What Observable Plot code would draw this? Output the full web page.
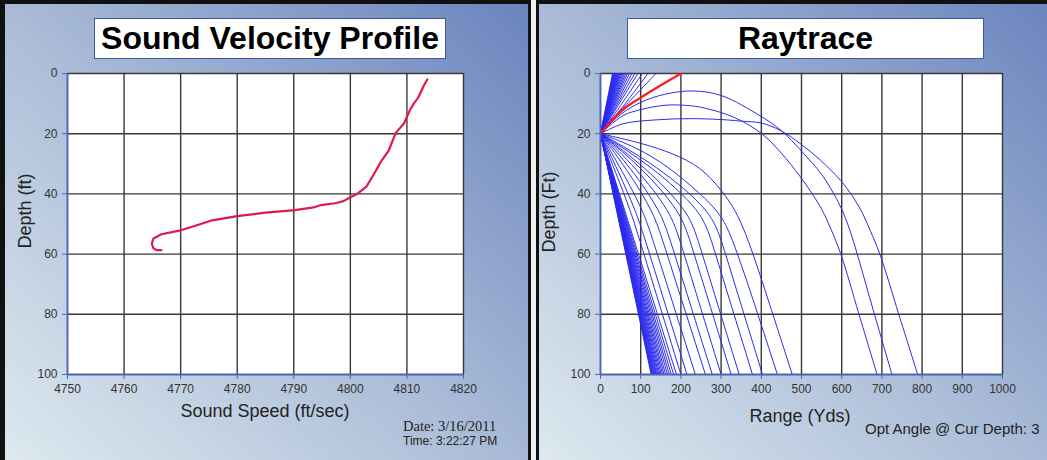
<!DOCTYPE html>
<html><head><meta charset="utf-8">
<script src="https://cdn.jsdelivr.net/npm/d3@7"></script>
<script src="https://cdn.jsdelivr.net/npm/@observablehq/plot@0.6"></script>
<style>
html,body{margin:0;padding:0;}
body{width:1047px;height:460px;position:relative;overflow:hidden;background:#f0f0f0;font-family:"Liberation Sans",Arial,sans-serif;}
.panel{position:absolute;top:0;height:480px;box-sizing:border-box;background:linear-gradient(to top right,#e0ebf0 0%,#a9bbd7 50%,#6a84bd 100%);border-top:4px solid #111;}
#pl{left:0;width:531px;border-left:5px solid #111;border-right:3px solid #111;}
#pr{left:536px;width:520px;border-left:3px solid #111;}
.tbox{position:absolute;top:18px;height:41px;background:#fff;border:1px solid #3f57a8;box-sizing:border-box;font-weight:bold;font-size:32px;line-height:39px;text-align:center;color:#000;}
.lab{position:absolute;font-size:18px;color:#222;white-space:nowrap;line-height:1;}
</style></head><body>
<div class="panel" id="pl"></div>
<div class="panel" id="pr"></div>
<div class="tbox" style="left:94px;width:352px;">Sound Velocity Profile</div>
<div class="tbox" style="left:627px;width:357px;">Raytrace</div>
<div class="lab" style="left:265px;top:411px;transform:translate(-50%,-50%);">Sound Speed (ft/sec)</div>
<div class="lab" style="left:25px;top:211px;transform:translate(-50%,-50%) rotate(-90deg);">Depth (ft)</div>
<div class="lab" style="left:403px;top:419px;font-family:'Liberation Serif','Times New Roman',serif;font-size:14.5px;">Date: 3/16/2011</div>
<div class="lab" style="left:403px;top:435px;font-size:12px;">Time: 3:22:27 PM</div>
<div class="lab" style="left:800px;top:416px;transform:translate(-50%,-50%);">Range (Yds)</div>
<div class="lab" style="left:549px;top:212px;transform:translate(-50%,-50%) rotate(-90deg);">Depth (Ft)</div>
<div class="lab" style="left:865px;top:421px;font-size:15px;">Opt Angle @ Cur Depth: 3</div>
<script>
// ---------- data ----------
const svpSpeed = [4813.6, 4813.0, 4812.0, 4811.2, 4810.5, 4809.5, 4808.0, 4806.8, 4805.5, 4804.2, 4802.8, 4801.2, 4800.0, 4798.8, 4797.3, 4794.8, 4793.5, 4790.2, 4785.0, 4780.0, 4775.3, 4772.9, 4770.0, 4766.6, 4765.2, 4764.9, 4765.2, 4765.8, 4766.6];
const svpDepth = [2, 4, 8, 10, 12.3, 16.5, 19.8, 25.5, 29, 33.3, 37.7, 40, 41.1, 42.4, 43.1, 43.7, 44.5, 45.4, 46.2, 47.4, 48.9, 50.4, 52.1, 53.4, 54.8, 56.5, 58.1, 58.7, 58.7];
const speedTicks = [4750, 4760, 4770, 4780, 4790, 4800, 4810, 4820];
const depthTicks = [0, 20, 40, 60, 80, 100];
const rangeTicks = [0, 100, 200, 300, 400, 500, 600, 700, 800, 900, 1000];

const rayOrigin = [0, 20];
// straight rays: range (yds) where each reaches the surface / the 100 ft bottom
const upFanEnds = [30, 31.5, 33, 34.5, 36, 37.5, 39, 40.5, 42, 44, 46, 48, 50.5, 53, 56, 59.5, 63, 67, 72, 78, 85, 93];
const downFanEnds = [126, 127.5, 129, 130.5, 132, 134, 136, 138, 140, 142.5, 145, 148, 151, 154.5, 158, 162, 166.5, 171, 176, 182, 189];
// bent rays read as [range, depth] points
const upCurvedRays = [
  [[0,20],[50,10.6],[104,0]],
  [[0,20],[55,11.1],[118,0]],
  [[0,20],[25,15.6],[65,10.2],[138,0]]
];
const turningRays = [
  [[0,20],[50,13.6],[100,9.6],[160,6.9],[230,5.8],[300,7.3],[400,14.3],[450,19],[500,25.8],[550,33.5],[580,39.9],[603,46],[625,54],[675,77],[725,100]],
  [[0,20],[56,14],[100,12],[156,10.6],[200,10.5],[249,11.2],[331,14.5],[401,20],[450,26.5],[497,34.3],[547,44.3],[566,49.5],[597,59.7],[643,80],[688,100]],
  [[0,20],[56,16.7],[139,15.4],[222,15.0],[300,15.3],[348,15.8],[401,16.5],[447,18.9],[497,23.3],[547,28.8],[597,35.5],[628,41],[652,46.5],[672,52.5],[695,60],[742,80],[789,100]]
];
const downCurvedRays = [
  [[0,20],[38,33.0],[76,46],[99,56],[200,100]],
  [[0,20],[44,32.4],[89,46],[113,56],[215,100]],
  [[0,20],[54,32.4],[108,46],[132,56],[236,100]],
  [[0,20],[66,31.9],[132,46],[156,56],[261,100]],
  [[0,20],[76,31.4],[151,46],[175,56],[278,100]],
  [[0,20],[88,31.2],[175,46],[199,56],[300,100]],
  [[0,20],[100,30.9],[200,46],[224,56],[325,100]],
  [[0,20],[110,30.9],[221,46],[244,56],[345,100]],
  [[0,20],[127,30.7],[254,46],[277,56],[378,100]],
  [[0,20],[139,30.4],[278,46],[302,56],[403,100]],
  [[0,20],[90,24.5],[170,31],[249,40],[298,46.5],[331,55],[440,100]],
  [[0,20],[100,23],[180,26.5],[249,31],[300,38.5],[348,47.5],[400,68],[477,100]]
];
const redRay = [[0,20],[26,16],[60,11.6],[100,8.0],[150,3.9],[200,0]];

// ---------- build tables ----------
const svpRows = svpSpeed.map((s, i) => ({speed: s, depth: svpDepth[i]}));
const straightRows = [];
let id = 0;
for (const e of upFanEnds) { straightRows.push({id, r: rayOrigin[0], d: rayOrigin[1]}, {id, r: e, d: 0}); id++; }
for (const e of downFanEnds) { straightRows.push({id, r: rayOrigin[0], d: rayOrigin[1]}, {id, r: e, d: 100}); id++; }
const smoothRows = [];
for (const ray of [...upCurvedRays, ...turningRays]) { for (const [r, d] of ray) smoothRows.push({id, r, d}); id++; }
const bentRows = [];
for (const ray of downCurvedRays) { for (const [r, d] of ray) bentRows.push({id, r, d}); id++; }
const redRows = redRay.map(([r, d]) => ({r, d}));

const axisBlue = "#4a63c9";
const gridColor = "#383838";
const rayBlue = "#2a2af0";
const baseStyle = {background: "transparent", fontFamily: '"Liberation Sans", Arial, sans-serif', fontSize: "12px", color: "#333", overflow: "visible"};

const left = Plot.plot({
  width: 531, height: 460,
  marginLeft: 67, marginRight: 68, marginTop: 73, marginBottom: 86,
  style: baseStyle,
  x: {domain: [4750, 4820]},
  y: {domain: [0, 100], reverse: true},
  marks: [
    Plot.frame({fill: "white", stroke: "none"}),
    Plot.gridX(speedTicks, {stroke: gridColor, strokeOpacity: 1, strokeWidth: 1.4}),
    Plot.gridY(depthTicks, {stroke: gridColor, strokeOpacity: 1, strokeWidth: 1.4}),
    Plot.ruleX([4750], {stroke: axisBlue, strokeWidth: 1.5}),
    Plot.ruleY([100], {stroke: axisBlue, strokeWidth: 1.5}),
    Plot.axisX(speedTicks, {anchor: "bottom", tickSize: 5, tickPadding: 5, stroke: axisBlue, fill: "#333", label: null, tickFormat: "d", fontSize: 12}),
    Plot.axisY(depthTicks, {anchor: "left", tickSize: 5, tickPadding: 5, stroke: axisBlue, fill: "#333", label: null, tickFormat: "d", fontSize: 12}),
    Plot.line(svpRows, {x: "speed", y: "depth", stroke: "#e0194b", strokeWidth: 2.2})
  ]
});
left.style.position = "absolute"; left.style.left = "0px"; left.style.top = "0px";
document.body.appendChild(left);

const right = Plot.plot({
  width: 511, height: 460,
  marginLeft: 64, marginRight: 45, marginTop: 73, marginBottom: 86,
  style: baseStyle,
  x: {domain: [0, 1000]},
  y: {domain: [0, 100], reverse: true},
  marks: [
    Plot.frame({fill: "white", stroke: "none"}),
    Plot.gridX(rangeTicks, {stroke: gridColor, strokeOpacity: 1, strokeWidth: 1.4}),
    Plot.gridY(depthTicks, {stroke: gridColor, strokeOpacity: 1, strokeWidth: 1.4}),
    Plot.line(straightRows, {x: "r", y: "d", z: "id", stroke: rayBlue, strokeWidth: 1, clip: true}),
    Plot.line(smoothRows, {x: "r", y: "d", z: "id", stroke: rayBlue, strokeWidth: 1, curve: "catmull-rom", clip: true}),
    Plot.line(bentRows, {x: "r", y: "d", z: "id", stroke: rayBlue, strokeWidth: 1, curve: "basis", clip: true}),
    Plot.line(redRows, {x: "r", y: "d", stroke: "#ff1a1a", strokeWidth: 2.2, curve: "monotone-x", clip: true}),
    Plot.ruleX([0], {stroke: axisBlue, strokeWidth: 1.5}),
    Plot.ruleY([100], {stroke: axisBlue, strokeWidth: 1.5}),
    Plot.axisX(rangeTicks, {anchor: "bottom", tickSize: 5, tickPadding: 5, stroke: axisBlue, fill: "#333", label: null, tickFormat: "d", fontSize: 12}),
    Plot.axisY(depthTicks, {anchor: "left", tickSize: 5, tickPadding: 5, stroke: axisBlue, fill: "#333", label: null, tickFormat: "d", fontSize: 12})
  ]
});
right.style.position = "absolute"; right.style.left = "536px"; right.style.top = "0px";
document.body.appendChild(right);
</script>
</body></html>
